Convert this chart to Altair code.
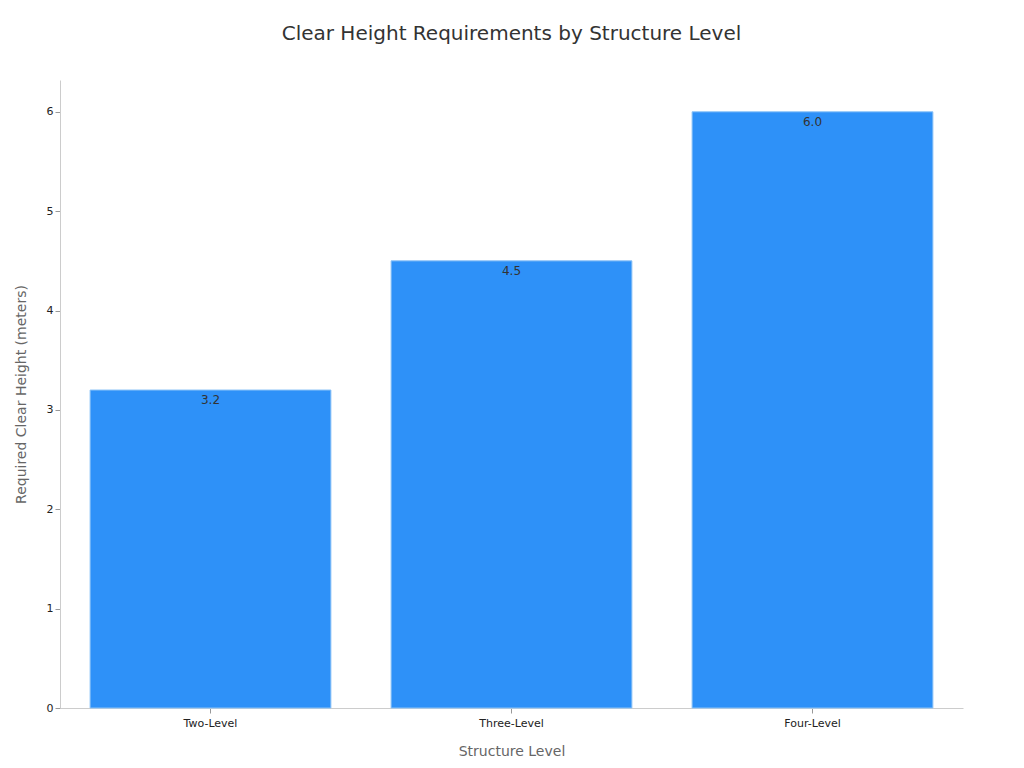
import altair as alt
import pandas as pd

levels = ["Two-Level", "Three-Level", "Four-Level"]
heights = [3.2, 4.5, 6.0]

df = pd.DataFrame({"level": levels, "height": heights})
df["label"] = [f"{v:.1f}" for v in heights]

x = alt.X("level:N", sort=levels, title="Structure Level",
          scale=alt.Scale(paddingInner=0.2, paddingOuter=0.1),
          axis=alt.Axis(labelAngle=0, labelFontSize=11, labelColor="#222",
                        titleFontSize=14, titleColor="#666", titleFontWeight="normal",
                        titlePadding=16, domainColor="#ccc", tickColor="#999",
                        labelPadding=4))
y = alt.Y("height:Q", title="Required Clear Height (meters)",
          scale=alt.Scale(domain=[0, 6.32], nice=False),
          axis=alt.Axis(values=[0, 1, 2, 3, 4, 5, 6], format="d", grid=False, labelFontSize=11,
                        labelColor="#222", titleFontSize=14, titleColor="#666",
                        titleFontWeight="normal", titlePadding=18, domainColor="#ccc",
                        tickColor="#999"))

bars = alt.Chart(df).mark_bar(color="#2E91F8", stroke="#8cc3f7", strokeWidth=1).encode(x=x, y=y)
text = alt.Chart(df).mark_text(baseline="top", dy=5, fontSize=12, color="#333").encode(
    x=alt.X("level:N", sort=levels), y="height:Q", text="label:N")

chart = (bars + text).properties(
    width=903, height=628,
    title=alt.Title("Clear Height Requirements by Structure Level", fontSize=20,
                    fontWeight="normal", color="#333", offset=36),
    autosize=alt.AutoSizeParams(type="none"),
    padding={"left": 52, "top": 72, "right": 53, "bottom": 52},
).configure(font="DejaVu Sans").configure_view(strokeWidth=0)

chart.save("out.html", embed_options={"renderer": "svg", "actions": False})
